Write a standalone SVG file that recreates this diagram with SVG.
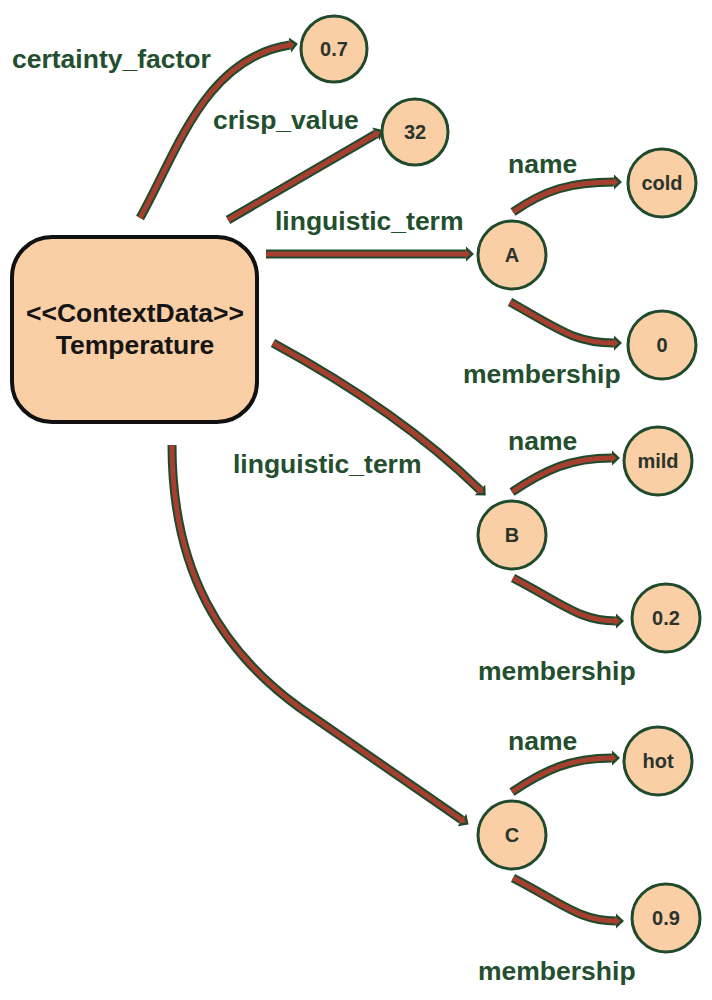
<svg xmlns="http://www.w3.org/2000/svg" width="712" height="1000" viewBox="0 0 712 1000">
<style>
.bg{fill:#ffffff}
.box{fill:#fbcfa6;stroke:#111;stroke-width:4}
.node{fill:#fbcfa6;stroke:#1f4a2c;stroke-width:3}
.nt{font-family:"Liberation Sans",Arial,sans-serif;font-weight:bold;font-size:20px;fill:#2b342b;text-anchor:middle}
.bt{font-family:"Liberation Sans",Arial,sans-serif;font-weight:bold;font-size:26.5px;fill:#151515;text-anchor:middle}
.lbl{font-family:"Liberation Sans",Arial,sans-serif;font-weight:bold;font-size:26.5px;fill:#234f2e}
.eo{fill:none;stroke:#1f4a2c;stroke-width:9;marker-end:url(#ho)}
.ei{fill:none;stroke:#a63f30;stroke-width:5;marker-end:url(#hi)}
</style>
<defs>
<marker id="ho" markerUnits="userSpaceOnUse" viewBox="0 -10 12 20" refX="0" refY="0" markerWidth="12" markerHeight="20" orient="auto" overflow="visible">
<path d="M0,-7.5 L8,0 L0,7.5 Z" fill="#1f4a2c"/>
</marker>
<marker id="hi" markerUnits="userSpaceOnUse" viewBox="0 -10 12 20" refX="0" refY="0" markerWidth="12" markerHeight="20" orient="auto" overflow="visible">
<path d="M-1,-4.5 L4.5,0 L-1,4.5 Z" fill="#a63f30"/>
</marker>
</defs>
<rect class="bg" x="0" y="0" width="712" height="1000"/>
<g id="connectors">
<g id="e-certainty"><path class="eo" d="M140,218 C178,150 205,58 290,45"/><path class="ei" d="M140,218 C178,150 205,58 290,45"/></g>
<g id="e-crisp"><path class="eo" d="M228,220 L376,134"/><path class="ei" d="M228,220 L376,134"/></g>
<g id="e-ltA"><path class="eo" d="M266,254 L466,254"/><path class="ei" d="M266,254 L466,254"/></g>
<g id="e-ltB"><path class="eo" d="M273,343 Q400,412 480,490"/><path class="ei" d="M273,343 Q400,412 480,490"/></g>
<g id="e-ltC"><path class="eo" d="M172,445 C172,570 220,650 300,708 L462,820"/><path class="ei" d="M172,445 C172,570 220,650 300,708 L462,820"/></g>
<g id="e-nameA"><path class="eo" d="M513,212 C545,190 570,182 614,182"/><path class="ei" d="M513,212 C545,190 570,182 614,182"/></g>
<g id="e-memA"><path class="eo" d="M510,302 C560,330 575,343 614,343"/><path class="ei" d="M510,302 C560,330 575,343 614,343"/></g>
<g id="e-nameB"><path class="eo" d="M512,492 C545,470 570,458 612,458"/><path class="ei" d="M512,492 C545,470 570,458 612,458"/></g>
<g id="e-memB"><path class="eo" d="M513,578 C565,605 580,621 616,621"/><path class="ei" d="M513,578 C565,605 580,621 616,621"/></g>
<g id="e-nameC"><path class="eo" d="M512,792 C545,770 570,758 612,758"/><path class="ei" d="M512,792 C545,770 570,758 612,758"/></g>
<g id="e-memC"><path class="eo" d="M513,878 C565,905 580,921 616,921"/><path class="ei" d="M513,878 C565,905 580,921 616,921"/></g>
</g>
<g id="labels">
<text class="lbl" x="12" y="68">certainty_factor</text>
<text class="lbl" x="213" y="129">crisp_value</text>
<text class="lbl" x="275" y="230">linguistic_term</text>
<text class="lbl" x="508" y="173">name</text>
<text class="lbl" x="463" y="383">membership</text>
<text class="lbl" x="233" y="473">linguistic_term</text>
<text class="lbl" x="508" y="450">name</text>
<text class="lbl" x="478" y="680">membership</text>
<text class="lbl" x="508" y="750">name</text>
<text class="lbl" x="478" y="980">membership</text>
</g>
<g id="temperature">
<rect class="box" x="12" y="237" width="245" height="185" rx="40" ry="40"/>
<text class="bt" x="135" y="322">&lt;&lt;ContextData&gt;&gt;</text>
<text class="bt" x="135" y="354">Temperature</text>
</g>
<g id="n-07"><circle class="node" cx="334" cy="49" r="33"/><text class="nt" x="334" y="56">0.7</text></g>
<g id="n-32"><circle class="node" cx="415" cy="132" r="33"/><text class="nt" x="415" y="139">32</text></g>
<g id="n-A"><circle class="node" cx="512" cy="255" r="34"/><text class="nt" x="512" y="262">A</text></g>
<g id="n-cold"><circle class="node" cx="662" cy="183" r="34"/><text class="nt" x="662" y="190">cold</text></g>
<g id="n-0"><circle class="node" cx="662" cy="345" r="34"/><text class="nt" x="662" y="352">0</text></g>
<g id="n-B"><circle class="node" cx="512" cy="535" r="34"/><text class="nt" x="512" y="542">B</text></g>
<g id="n-mild"><circle class="node" cx="658" cy="461" r="34"/><text class="nt" x="658" y="468">mild</text></g>
<g id="n-02"><circle class="node" cx="666" cy="618" r="34"/><text class="nt" x="666" y="625">0.2</text></g>
<g id="n-C"><circle class="node" cx="512" cy="835" r="34"/><text class="nt" x="512" y="842">C</text></g>
<g id="n-hot"><circle class="node" cx="658" cy="761" r="34"/><text class="nt" x="658" y="768">hot</text></g>
<g id="n-09"><circle class="node" cx="666" cy="918" r="34"/><text class="nt" x="666" y="925">0.9</text></g>
</svg>
